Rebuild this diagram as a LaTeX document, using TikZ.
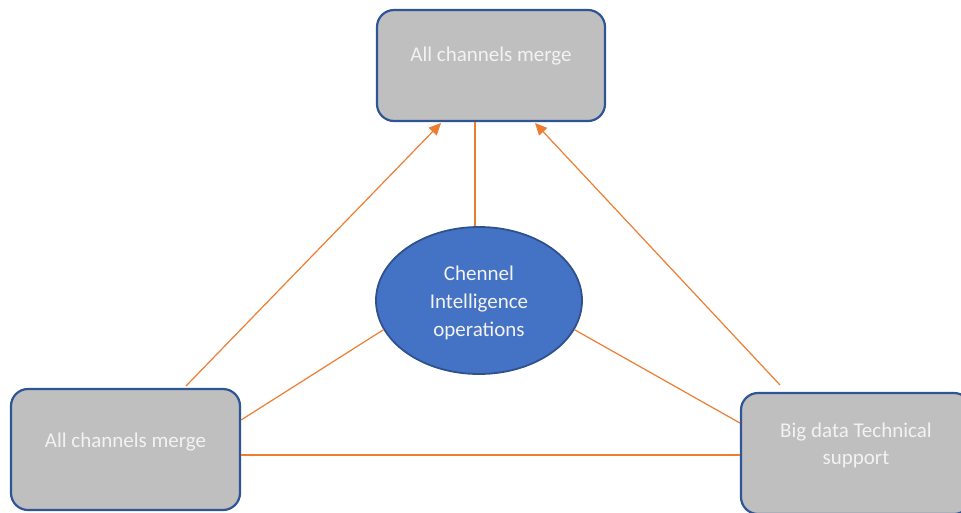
\documentclass[tikz,border=0pt]{standalone}
\usepackage{fontspec}
\setmainfont{Carlito}
\usetikzlibrary{shapes.geometric,arrows.meta}
\definecolor{boxfill}{HTML}{BFBFBF}
\definecolor{boxedge}{HTML}{2F5597}
\definecolor{ellfill}{HTML}{4472C4}
\definecolor{elledge}{HTML}{2F528F}
\definecolor{conn}{HTML}{ED7D31}
\definecolor{txt}{HTML}{F2F2F2}
\begin{document}
\begin{tikzpicture}[x=1pt,y=-1pt,
  greybox/.style={draw=boxedge,line width=2.2pt,fill=boxfill,rounded corners=17pt,inner sep=0pt},
  boxtext/.style={text=txt,font=\fontsize{21}{27}\selectfont,align=center},
  hub/.style={ellipse,draw=elledge,line width=1.8pt,fill=ellfill,inner sep=0pt},
  hubtext/.style={text=txt,font=\fontsize{21}{28}\selectfont,align=center},
  link/.style={draw=conn,line width=1.2pt},
  arr/.style={link,-{Triangle[length=12pt,width=11pt]}}]
\useasboundingbox (0,0) rectangle (961,512);
\clip (0,0) rectangle (961,512);
\node[greybox,minimum width=228pt,minimum height=111pt,
  label={[boxtext,yshift=9.5pt]center:All channels merge}] (top) at (491,65.5) {};
\node[greybox,minimum width=229pt,minimum height=121pt,
  label={[boxtext,yshift=7.5pt]center:All channels merge}] (left) at (125.5,449.5) {};
\node[greybox,minimum width=230pt,minimum height=121pt,
  label={[boxtext,yshift=8pt]center:Big data Technical\\support}] (right) at (856,453.5) {};
\node[hub,minimum width=206pt,minimum height=147pt,
  label={[hubtext,yshift=-2pt]center:Chennel\\Intelligence\\operations}] (hub) at (479,300.5) {};
\draw[link] (top.south -| 475,0) -- (hub.north -| 475,0);
\draw[arr] (186,386) coordinate (a1) -- (441,123);
\draw[arr] (780,385) coordinate (a2) -- (535,123);
\draw[link] (left.east |- 0,420) -- (hub.197);
\draw[link] (hub.343) -- (right.west |- 0,423);
\draw[link] (left.east |- 0,455) -- (right.west |- 0,455);
\end{tikzpicture}
\end{document}
